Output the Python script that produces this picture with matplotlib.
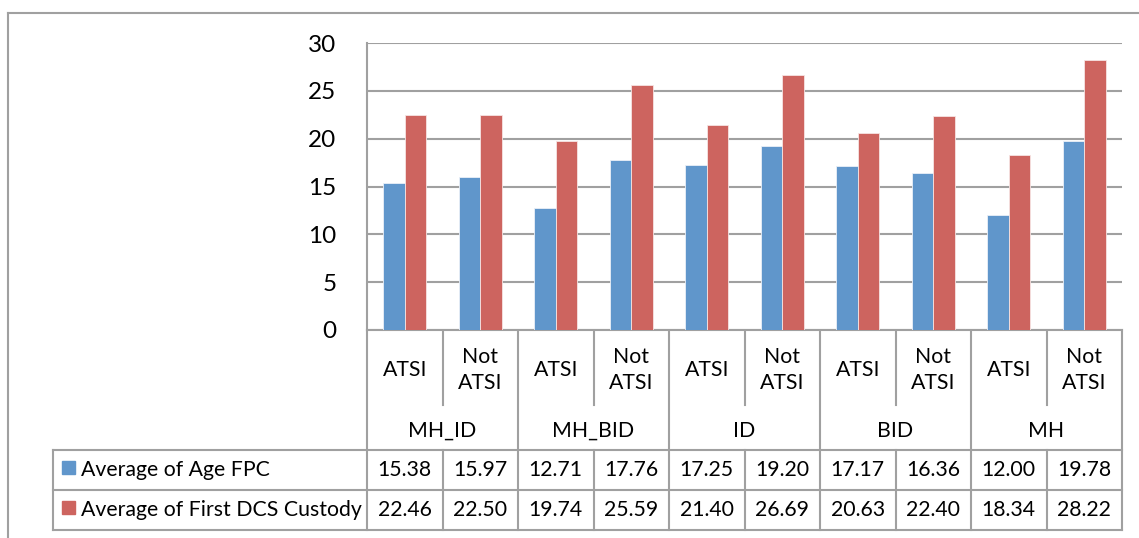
import matplotlib.pyplot as plt
import numpy as np

# Data
groups = ["MH_ID", "MH_BID", "ID", "BID", "MH"]
subgroups = ["ATSI", "Not\nATSI"]
age_fpc = [15.38, 15.97, 12.71, 17.76, 17.25, 19.20, 17.17, 16.36, 12.00, 19.78]
first_dcs = [22.46, 22.50, 19.74, 25.59, 21.40, 26.69, 20.63, 22.40, 18.34, 28.22]
series_names = ["Average of Age FPC", "Average of First DCS Custody"]
yticks = [0, 5, 10, 15, 20, 25, 30]

BLUE = "#6096CB"
RED = "#CD645F"
GRAY = "#A0A0A0"
FONT = "Lato"

W, H = 1139, 538
fig = plt.figure(figsize=(W / 100, H / 100), dpi=100)
plt.rcParams["font.family"] = [FONT, "DejaVu Sans"]

# plot area in pixel coordinates
px_left, px_right, px_top, px_zero = 367, 1122, 43, 330
ax = fig.add_axes([px_left / W, (H - px_zero) / H,
                   (px_right - px_left) / W, (px_zero - px_top) / H])

n = len(age_fpc)
x = np.arange(n)
bw = 0.285
ax.bar(x - bw / 2, age_fpc, bw, color=BLUE, edgecolor="#EAF0F8", linewidth=0.6, zorder=3)
ax.bar(x + bw / 2, first_dcs, bw, color=RED, edgecolor="#F6E4E3", linewidth=0.6, zorder=3)
ax.set_xlim(-0.5, n - 0.5)
ax.set_ylim(0, 30)
ax.set_xticks([])
ax.set_yticks(yticks)
ax.set_yticklabels([str(v) for v in yticks], fontsize=17.5)
ax.tick_params(axis="y", length=0, pad=22)
ax.grid(axis="y", color=GRAY, linewidth=1.5, zorder=0)
for s in ["top", "right"]:
    ax.spines[s].set_visible(False)
for s in ["left", "bottom"]:
    ax.spines[s].set_color(GRAY)
    ax.spines[s].set_linewidth(1.5)

# overlay in pixel coordinates for the category axis and data table
ov = fig.add_axes([0, 0, 1, 1], zorder=-1)
ov.set_xlim(0, W)
ov.set_ylim(H, 0)
ov.axis("off")

lw = 1.5
cw = (px_right - px_left) / n
tbl_left = 53
row_top, row_mid, row_bot = 450, 490, 530
sub_bot = 405

# outer chart frame
ov.plot([8, W], [13, 13], color=GRAY, lw=lw)
ov.plot([8, 8], [13, H], color=GRAY, lw=lw)

# category axis separators
for k in range(n + 1):
    xk = px_left + k * cw
    if k % 2 == 0:
        ov.plot([xk, xk], [px_zero, row_bot], color=GRAY, lw=lw)
    else:
        ov.plot([xk, xk], [px_zero, sub_bot], color=GRAY, lw=lw)
        ov.plot([xk, xk], [row_top, row_bot], color=GRAY, lw=lw)

# table rows
for yy in [row_top, row_mid, row_bot]:
    ov.plot([tbl_left, px_right], [yy, yy], color=GRAY, lw=lw)
ov.plot([tbl_left, tbl_left], [row_top, row_bot], color=GRAY, lw=lw)

# category labels
for k in range(n):
    xc = px_left + (k + 0.5) * cw
    ov.text(xc, 370, subgroups[k % 2], ha="center", va="center",
            fontsize=15.3, linespacing=1.4)
for g, name in enumerate(groups):
    xc = px_left + (2 * g + 1) * cw
    ov.text(xc, 431, name, ha="center", va="center", fontsize=15.3)

# data table values and legend keys
rows = [(age_fpc, BLUE), (first_dcs, RED)]
for r, ((vals, col), label) in enumerate(zip(rows, series_names)):
    yc = (row_top + row_mid) / 2 if r == 0 else (row_mid + row_bot) / 2
    ov.add_patch(plt.Rectangle((62, yc - 9), 13, 13, color=col))
    ov.text(81, yc, label, ha="left", va="center", fontsize=15.3)
    for k, v in enumerate(vals):
        xc = px_left + (k + 0.5) * cw
        ov.text(xc, yc, f"{v:.2f}", ha="center", va="center", fontsize=15.3)

fig.savefig("out.png", dpi=100)
